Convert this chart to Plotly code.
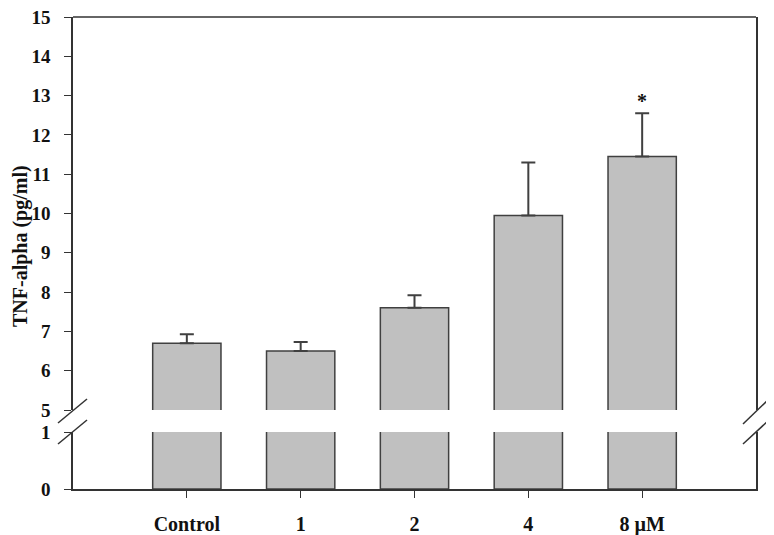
import plotly.graph_objects as go

categories = ["Control", "1", "2", "4", "8 µM"]
tnf_means = [6.7, 6.5, 7.6, 9.95, 11.45]
tnf_errors = [0.23, 0.23, 0.32, 1.35, 1.1]
upper_ticks = [5, 6, 7, 8, 9, 10, 11, 12, 13, 14, 15]
lower_ticks = [0, 1]
significance = ["", "", "", "", "*"]

# the page body offsets the figure by 8px; layout is worked out in screen px
OFF = 8
W, H = 774 - OFF, 535 - OFF
PX0, PX1, PY0, PY1 = 73, 756, 17, 489   # plot area in screen px
L, T = PX0 - OFF, PY0 - OFF
R, B = W - (PX1 - OFF), H - (PY1 - OFF)
pw, ph = PX1 - PX0, PY1 - PY0

def px(x):
    return (x - PX0) / pw

def py(y):
    return (PY1 - y) / ph

font_family = "Liberation Serif, Times New Roman, serif"
axis_color = "#333333"
bar_fill = "#c0c0c0"
bar_line = "#404040"
text_color = "#111111"

xs = list(range(len(categories)))

fig = go.Figure()
fig.add_trace(go.Bar(
    x=xs, y=tnf_means, xaxis="x", yaxis="y",
    width=0.6, marker=dict(color=bar_fill, line=dict(color=bar_line, width=1.5)),
    showlegend=False, hoverinfo="skip",
))
fig.add_trace(go.Bar(
    x=xs, y=tnf_means, xaxis="x", yaxis="y2",
    width=0.6, marker=dict(color=bar_fill, line=dict(color=bar_line, width=1.5)),
    error_y=dict(type="data", array=tnf_errors, arrayminus=[0] * len(tnf_errors),
                 symmetric=False, color=bar_line, thickness=2, width=7),
    showlegend=False,
))

lower_top = py(432)
upper_bottom = py(410)

common_y = dict(
    showline=True, mirror=True, linecolor=axis_color, linewidth=1.5,
    ticks="outside", ticklen=7, tickwidth=1.2, tickcolor=axis_color,
    showgrid=False, zeroline=False, anchor="x", automargin=False,
    tickfont=dict(family=font_family, size=19, color=text_color, weight="bold"),
    ticklabelstandoff=10, ticklabeloverflow="allow",
)

fig.update_layout(
    width=W, height=H,
    margin=dict(l=L, r=R, t=T, b=B, pad=0, autoexpand=False),
    paper_bgcolor="white", plot_bgcolor="white",
    font=dict(family=font_family, size=18, color=text_color),
    xaxis=dict(
        range=[-1, 5], tickmode="array", tickvals=xs, ticktext=categories,
        showline=True, linecolor=axis_color, linewidth=1.5,
        ticks="outside", ticklen=7, tickwidth=1.2, tickcolor=axis_color,
        showgrid=False, zeroline=False, anchor="y", automargin=False,
        tickfont=dict(family=font_family, size=20, color=text_color, weight="bold"),
        ticklabelstandoff=9, ticklabeloverflow="allow",
    ),
    yaxis=dict(domain=[0, lower_top], range=[0, 1], tickmode="array",
               tickvals=lower_ticks, **common_y),
    yaxis2=dict(domain=[upper_bottom, 1], range=[5, 15], tickmode="array",
                tickvals=upper_ticks, **common_y),
)

# top border
fig.add_shape(type="line", xref="paper", yref="paper", x0=0, x1=1, y0=1, y1=1,
              line=dict(color=axis_color, width=1.5))
# break marks
for (x0, y0, x1, y1) in [(58, 423, 87, 399), (58, 444, 87, 420),
                         (743, 424, 769, 399), (743, 444, 769, 420)]:
    fig.add_shape(type="line", xref="paper", yref="paper",
                  x0=px(x0), y0=py(y0), x1=px(x1), y1=py(y1),
                  line=dict(color=axis_color, width=1.5))

# y-axis title
fig.add_annotation(text="<b>TNF-alpha (pg/ml)</b>", xref="paper", yref="paper",
                   x=px(20), y=py(246), textangle=-90, showarrow=False,
                   xanchor="center", yanchor="middle",
                   font=dict(family=font_family, size=20, color=text_color))

# significance marker
for xi, m, e, s in zip(xs, tnf_means, tnf_errors, significance):
    if s:
        fig.add_annotation(text="<b>" + s + "</b>", x=xi, y=m + e, xref="x", yref="y2",
                           showarrow=False, yanchor="middle", yshift=12,
                           font=dict(family=font_family, size=20, color=text_color))

fig.write_html("out.html")
